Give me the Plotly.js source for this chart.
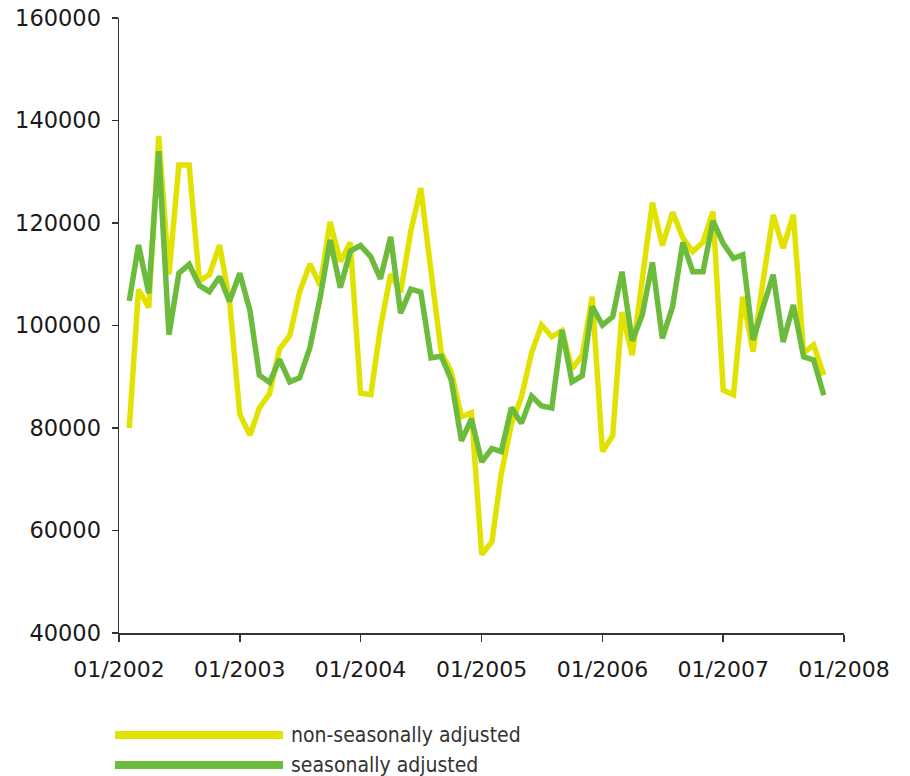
<!DOCTYPE html>
<html>
<head>
<meta charset="utf-8">
<script src="https://cdn.plot.ly/plotly-3.0.1.min.js"></script>
<style>
  html, body { margin: 0; padding: 0; background: #ffffff; }
  #chart { width: 910px; height: 776px; }
</style>
</head>
<body>
<div id="chart"></div>
<script>
// Monthly data, first month 02/2002, 70 months
var startYear = 2002;
var startMonth = 2;
var nonSeasonallyAdjusted = [
  80000, 107000, 103500, 137000, 110000, 131300, 131300, 108700, 109900, 115700, 104800,
  82700, 78600, 83900, 86700, 95400, 98000, 106600, 112000, 107800, 120200, 112500, 116200,
  86800, 86500, 99500, 110000, 106500, 118500, 126800, 110500, 94700, 91000, 82200, 83000,
  55300, 57800, 71000, 80800, 86000, 94700, 100100, 97800, 99000, 91500, 94200, 105600,
  75400, 78500, 102600, 94200, 109000, 124000, 115600, 122100, 117100, 114400, 116300, 122200,
  87400, 86500, 105600, 94900, 108500, 121600, 115100, 121600, 94600, 96200, 90300
];
var seasonallyAdjusted = [
  104800, 115700, 106300, 134000, 98200, 110200, 111900, 107800, 106600, 109500, 104700,
  110200, 102800, 90300, 88900, 93400, 89000, 89800, 95700, 105500, 116700, 107400, 114500,
  115600, 113400, 109100, 117300, 102400, 107100, 106500, 93700, 94000, 89400, 77500, 81800,
  73400, 76000, 75400, 84000, 80900, 86200, 84300, 83900, 99100, 89000, 90200, 103700,
  100100, 101700, 110500, 97000, 102000, 112300, 97500, 103700, 116200, 110500, 110500, 120400,
  116000, 113100, 113800, 97200, 103700, 109900, 96800, 104000, 93900, 93300, 86400
];
var seriesNames = ['non-seasonally adjusted', 'seasonally adjusted'];
var seriesColors = ['#e2e200', '#6cbb3c'];

var months = [];
for (var i = 0; i < nonSeasonallyAdjusted.length; i++) {
  var m0 = startMonth - 1 + i;
  var yy = startYear + Math.floor(m0 / 12);
  var mm = (m0 % 12) + 1;
  months.push(yy + '-' + (mm < 10 ? '0' + mm : mm) + '-01');
}

var traces = [
  { x: months, y: nonSeasonallyAdjusted, name: seriesNames[0], type: 'scatter', mode: 'lines',
    line: { color: seriesColors[0], width: 5.5 }, hoverinfo: 'x+y' },
  { x: months, y: seasonallyAdjusted, name: seriesNames[1], type: 'scatter', mode: 'lines',
    line: { color: seriesColors[1], width: 5.5 }, hoverinfo: 'x+y' }
];

var yTickFont = { family: 'DejaVu Sans, Verdana, sans-serif', size: 22.5, color: '#1a1a1a' };
var xTickFont = { family: 'DejaVu Sans, Verdana, sans-serif', size: 22, color: '#1a1a1a' };
var legFont = { family: 'DejaVu Sans Condensed, DejaVu Sans, sans-serif', size: 21, color: '#333333' };

var layout = {
  width: 910, height: 776,
  margin: { l: 119, r: 66, t: 18, b: 143 },
  paper_bgcolor: '#ffffff', plot_bgcolor: '#ffffff',
  showlegend: false,
  xaxis: {
    type: 'date',
    range: ['2002-01-01', '2008-01-01'],
    tick0: '2002-01-01', dtick: 'M12', tickformat: '%m/%Y',
    showgrid: false, zeroline: false,
    showline: true, linecolor: '#333333', linewidth: 1.5,
    ticks: 'outside', ticklen: 7, tickcolor: '#333333', tickwidth: 1.5,
    tickfont: xTickFont, ticklabelstandoff: 9
  },
  yaxis: {
    range: [40000, 160000], dtick: 20000, tickformat: 'd',
    showgrid: false, zeroline: false,
    showline: true, linecolor: '#333333', linewidth: 1.5,
    ticks: 'outside', ticklen: 6, tickcolor: '#333333', tickwidth: 1.5,
    tickfont: yTickFont, ticklabelstandoff: 6
  },
  shapes: [
    { type: 'line', xref: 'paper', yref: 'paper', x0: -0.0055, x1: 0.2262, y0: -0.1659, y1: -0.1659,
      line: { color: seriesColors[0], width: 8 } },
    { type: 'line', xref: 'paper', yref: 'paper', x0: -0.0055, x1: 0.2262, y0: -0.2146, y1: -0.2146,
      line: { color: seriesColors[1], width: 8 } }
  ],
  annotations: [
    { xref: 'paper', yref: 'paper', x: 0.2345, y: -0.1659, xanchor: 'left', yanchor: 'middle',
      text: seriesNames[0], showarrow: false, font: legFont },
    { xref: 'paper', yref: 'paper', x: 0.2345, y: -0.2146, xanchor: 'left', yanchor: 'middle',
      text: seriesNames[1], showarrow: false, font: legFont }
  ]
};

Plotly.newPlot('chart', traces, layout, { displayModeBar: false, staticPlot: true });
</script>
</body>
</html>
